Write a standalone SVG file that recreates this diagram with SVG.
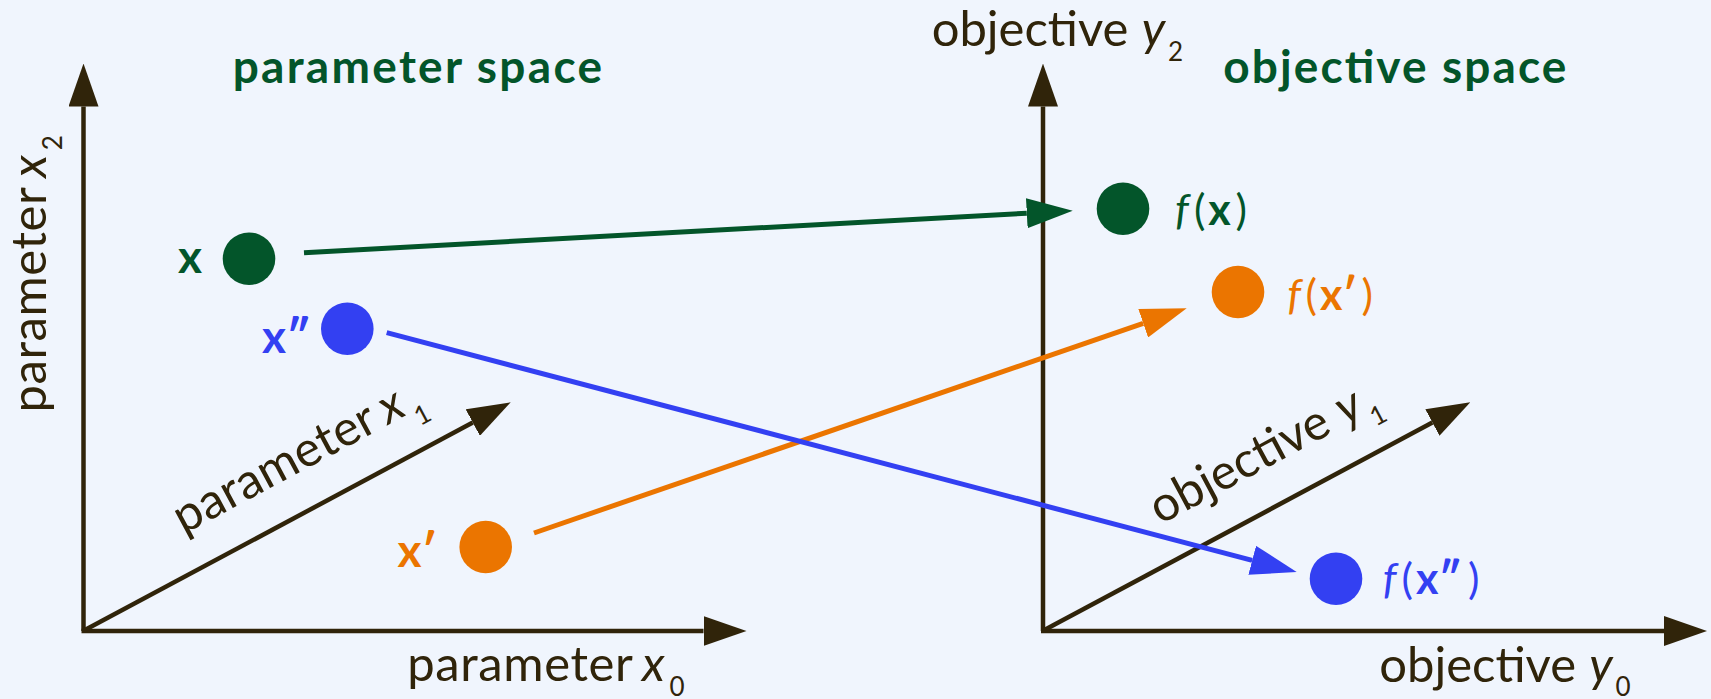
<svg xmlns="http://www.w3.org/2000/svg" width="1711" height="699" viewBox="0 0 1711 699">
<style>
.axis{stroke:#30240A;stroke-width:4.5;fill:none}
.conn{stroke-width:5;fill:none}
.lbl{font-family:Lato,"Open Sans","DejaVu Sans",sans-serif;font-size:49px;font-weight:400;fill:#30240A}
.sub{font-size:26px}
.it{font-style:italic}
.title{font-family:Lato,"Open Sans","DejaVu Sans",sans-serif;font-size:46px;font-weight:700;fill:#03552A}
.pt{font-family:Lato,"Open Sans","DejaVu Sans",sans-serif;font-size:46px;font-weight:700}
.fl{font-family:Lato,"Open Sans","DejaVu Sans",sans-serif;font-size:43px;font-weight:400}
.b{font-weight:700}
.green{fill:#03552A}
.blue{fill:#3340F2}
.orange{fill:#EB7500}
</style>
<defs>
<marker id="ah-axis" markerUnits="userSpaceOnUse" markerWidth="43" markerHeight="30" viewBox="0 0 43 30" refX="0" refY="15" orient="auto"><path d="M0,0L43,15L0,30Z" fill="#30240A"/></marker>
<marker id="ah-green" markerUnits="userSpaceOnUse" markerWidth="46" markerHeight="30" viewBox="0 0 46 30" refX="0" refY="15" orient="auto"><path d="M0,0L46,15L0,30Z" fill="#03552A"/></marker>
<marker id="ah-orange" markerUnits="userSpaceOnUse" markerWidth="46" markerHeight="30" viewBox="0 0 46 30" refX="0" refY="15" orient="auto"><path d="M0,0L46,15L0,30Z" fill="#EB7500"/></marker>
<marker id="ah-blue" markerUnits="userSpaceOnUse" markerWidth="46" markerHeight="30" viewBox="0 0 46 30" refX="0" refY="15" orient="auto"><path d="M0,0L46,15L0,30Z" fill="#3340F2"/></marker>
</defs>
<rect width="1711" height="699" fill="#F0F5FD"/>

<g id="parameter-axes">
<line class="axis" x1="83.5" y1="631" x2="83.5" y2="106.5" marker-end="url(#ah-axis)"/>
<line class="axis" x1="81.5" y1="631" x2="703.5" y2="631" marker-end="url(#ah-axis)"/>
<line class="axis" x1="83" y1="631" x2="472.8" y2="422.6" marker-end="url(#ah-axis)"/>
</g>
<g id="objective-axes">
<line class="axis" x1="1043" y1="631" x2="1043" y2="106.5" marker-end="url(#ah-axis)"/>
<line class="axis" x1="1041" y1="631" x2="1664" y2="631" marker-end="url(#ah-axis)"/>
<line class="axis" x1="1042.5" y1="631" x2="1432.4" y2="422.6" marker-end="url(#ah-axis)"/>
</g>

<g id="titles">
<text id="title-parameter" class="title" x="232.7" y="82.5" textLength="369.3">parameter space</text>
<text id="title-objective" class="title" x="1223.3" y="82.5" textLength="343">objective space</text>
</g>

<g id="axis-labels" class="lbl">
<text id="label-x0" y="681.3"><tspan x="407.3" textLength="224.4">parameter</tspan> <tspan class="it" x="642">x</tspan><tspan class="sub" x="669.5" dy="15">0</tspan></text>
<text id="label-x2" transform="translate(46,412.5) rotate(-90)" y="0"><tspan x="0" textLength="224.4">parameter</tspan> <tspan class="it" x="234.7">x</tspan><tspan class="sub" x="262.2" dy="16">2</tspan></text>
<text id="label-x1" transform="translate(183.5,534.5) rotate(-28.13)" y="0"><tspan x="0" textLength="222">parameter</tspan> <tspan class="it" x="232">x</tspan><tspan class="sub" x="259.5" dy="16">1</tspan></text>
<text id="label-y0" y="682"><tspan x="1379.3" textLength="196.7">objective</tspan> <tspan class="it" x="1589.3">y</tspan><tspan class="sub" x="1615.5" dy="14">0</tspan></text>
<text id="label-y2" y="45.7"><tspan x="931.7" textLength="196.7">objective</tspan> <tspan class="it" x="1141.7">y</tspan><tspan class="sub" x="1168" dy="15">2</tspan></text>
<text id="label-y1" transform="translate(1160,525) rotate(-28.13)" y="0"><tspan x="0" textLength="196.7">objective</tspan> <tspan class="it" x="210">y</tspan><tspan class="sub" x="236.5" dy="15">1</tspan></text>
</g>

<g id="connectors">
<line class="conn" stroke="#03552A" x1="304" y1="252.7" x2="1026.8" y2="213.2" marker-end="url(#ah-green)"/>
<line class="conn" stroke="#EB7500" x1="534" y1="533" x2="1143.2" y2="323.3" marker-end="url(#ah-orange)"/>
<line class="conn" stroke="#3340F2" x1="386.7" y1="332.7" x2="1252.2" y2="560.3" marker-end="url(#ah-blue)"/>
</g>

<g id="node-x">
<circle class="green" cx="249" cy="258.7" r="26.3"/>
<text class="pt green" x="202" y="272.7" text-anchor="end">x</text>
</g>
<g id="node-x2prime">
<circle class="blue" cx="347.3" cy="328.7" r="26.3"/>
<text class="pt blue" x="311" y="353" text-anchor="end">x″</text>
</g>
<g id="node-xprime">
<circle class="orange" cx="485.7" cy="547" r="26.3"/>
<text class="pt orange" x="437" y="567.3" text-anchor="end">x′</text>
</g>
<g id="node-fx">
<circle class="green" cx="1123" cy="208.7" r="26.3"/>
<text class="fl green" y="225"><tspan class="it" x="1175">f</tspan><tspan x="1194">(</tspan><tspan class="b" x="1208.3">x</tspan><tspan x="1235.5">)</tspan></text>
</g>
<g id="node-fxprime">
<circle class="orange" cx="1238" cy="292" r="26.3"/>
<text class="fl orange" y="310"><tspan class="it" x="1287.3">f</tspan><tspan x="1305.5">(</tspan><tspan class="b" x="1320">x′</tspan><tspan x="1361.5">)</tspan></text>
</g>
<g id="node-fx2prime">
<circle class="blue" cx="1336" cy="578.7" r="26.3"/>
<text class="fl blue" y="594"><tspan class="it" x="1382.7">f</tspan><tspan x="1401.5">(</tspan><tspan class="b" x="1416">x″</tspan><tspan x="1468">)</tspan></text>
</g>
</svg>
